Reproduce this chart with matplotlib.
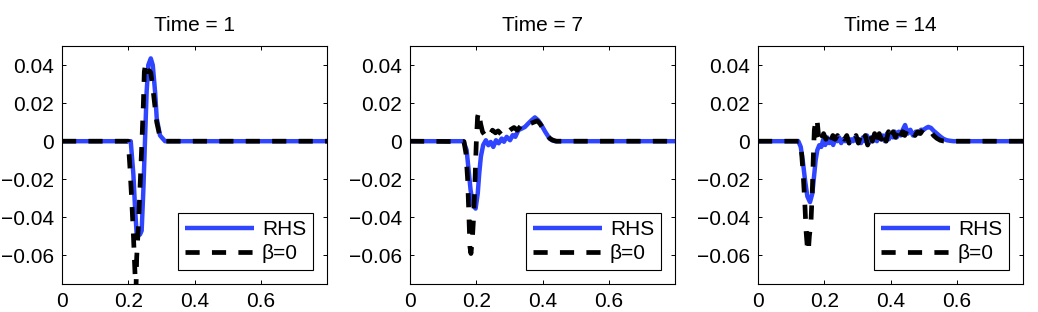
import numpy as np
import matplotlib
matplotlib.use("Agg")
import matplotlib.pyplot as plt

plt.rcParams['font.family'] = ['Liberation Sans', 'DejaVu Sans']

titles = ["Time = 1", "Time = 7", "Time = 14"]

# Time = 1
t1_rhs_x = [0.0, 0.2075, 0.2155, 0.2205, 0.2255, 0.2305, 0.2355, 0.2405, 0.2455, 0.2505,
            0.2555, 0.2605, 0.268, 0.274, 0.281, 0.286, 0.296, 0.311, 0.8]
t1_rhs_y = [0.0, 0.0, -0.0175, -0.035, -0.049, -0.0495, -0.049, -0.047, -0.026, 0.0,
            0.026, 0.040, 0.0435, 0.040, 0.026, 0.012, 0.003, 0.0, 0.0]
t1_b0_x = [0.0, 0.200, 0.205, 0.2105, 0.2155, 0.2205, 0.2225, 0.2255, 0.2305, 0.2355,
           0.2405, 0.2455, 0.2485, 0.2525, 0.2575, 0.2635, 0.268, 0.2755, 0.286, 0.296,
           0.306, 0.8]
t1_b0_y = [0.0, 0.0, -0.0135, -0.031, -0.049, -0.070, -0.085, -0.061, -0.045, -0.0245,
           -0.0035, 0.019, 0.0365, 0.041, 0.0365, 0.037, 0.036, 0.026, 0.010, 0.002,
           0.0, 0.0]

# Time = 7
t7_rhs_x = [0.0, 0.161, 0.171, 0.176, 0.183, 0.191, 0.198, 0.2045, 0.209, 0.214,
            0.221, 0.229, 0.2365, 0.2435, 0.2515, 0.2596, 0.2677, 0.2767, 0.2837, 0.2918,
            0.302, 0.310, 0.318, 0.327, 0.337, 0.347, 0.357, 0.367, 0.377, 0.387,
            0.397, 0.408, 0.418, 0.428, 0.438, 0.8]
t7_rhs_y = [0.0, 0.0, -0.0047, -0.0135, -0.0258, -0.0337, -0.0354, -0.0275, -0.017, -0.008,
            -0.002, 0.0005, -0.0021, -0.0004, -0.003, 0.0005, -0.0011, 0.0014, -0.0003, 0.0023,
            0.0005, 0.0032, 0.0023, 0.0058, 0.0066, 0.0075, 0.0093, 0.011, 0.0125, 0.011,
            0.0084, 0.005, 0.0023, 0.0005, 0.0, 0.0]
t7_b0_x = [0.0, 0.163, 0.169, 0.174, 0.178, 0.181, 0.184, 0.188, 0.192, 0.196,
           0.200, 0.204, 0.208, 0.213, 0.219, 0.226, 0.233, 0.241, 0.249, 0.258,
           0.266, 0.275, 0.284, 0.294, 0.304, 0.314, 0.324, 0.334, 0.344, 0.354,
           0.364, 0.374, 0.384, 0.392, 0.402, 0.412, 0.422, 0.432, 0.442, 0.8]
t7_b0_y = [0.0, -0.0002, -0.0065, -0.020, -0.040, -0.0556, -0.059, -0.052, -0.040, -0.022,
           -0.0012, 0.0128, 0.0154, 0.0093, 0.0049, 0.0032, 0.0049, 0.0032, 0.0058, 0.0044,
           0.0054, 0.0037, 0.0058, 0.0047, 0.0061, 0.0072, 0.0058, 0.0079, 0.0093, 0.0102,
           0.0093, 0.010, 0.0107, 0.0093, 0.0066, 0.0037, 0.0014, 0.0005, 0.0, 0.0]

# Time = 14
t14_rhs_x = [0.0, 0.1217, 0.129, 0.135, 0.142, 0.149, 0.157, 0.164, 0.169, 0.174,
             0.179, 0.185, 0.191, 0.197, 0.203, 0.209, 0.215, 0.221, 0.227, 0.233,
             0.239, 0.245, 0.251, 0.257, 0.263, 0.269, 0.275, 0.281, 0.287, 0.293,
             0.299, 0.305, 0.311, 0.317, 0.323, 0.329, 0.335, 0.341, 0.347, 0.353,
             0.359, 0.365, 0.371, 0.377, 0.383, 0.389, 0.395, 0.401, 0.407, 0.413,
             0.419, 0.425, 0.431, 0.437, 0.444, 0.452, 0.460, 0.468, 0.476, 0.484,
             0.492, 0.500, 0.508, 0.514, 0.522, 0.530, 0.540, 0.550, 0.560, 0.570,
             0.580, 0.590, 0.600, 0.8]
t14_rhs_y = [0.0, 0.0, -0.003, -0.010, -0.0205, -0.029, -0.032, -0.0275, -0.0188, -0.010,
             -0.0047, -0.0021, -0.003, 0.001, -0.002, 0.002, -0.001, 0.001, -0.002, 0.002,
             0.000, 0.002, -0.001, 0.001, 0.000, 0.002, -0.001, 0.001, 0.000, 0.002,
             0.000, 0.001, -0.001, 0.002, 0.000, 0.003, -0.001, 0.002, 0.000, 0.003,
             0.000, 0.003, 0.001, 0.003, 0.000, 0.004, 0.001, 0.004, 0.002, 0.005,
             0.002, 0.005, 0.003, 0.006, 0.0085, 0.004, 0.006, 0.003, 0.005, 0.004,
             0.006, 0.006, 0.007, 0.0075, 0.007, 0.0055, 0.004, 0.0025, 0.0012, 0.0005,
             0.0002, 0.0, 0.0, 0.0]
t14_b0_x = [0.0, 0.127, 0.132, 0.137, 0.142, 0.145, 0.149, 0.152, 0.155, 0.157,
            0.160, 0.164, 0.167, 0.170, 0.175, 0.179, 0.183, 0.189, 0.198, 0.205,
            0.212, 0.219, 0.226, 0.233, 0.240, 0.247, 0.254, 0.261, 0.268, 0.275,
            0.282, 0.289, 0.296, 0.303, 0.310, 0.317, 0.324, 0.331, 0.338, 0.345,
            0.352, 0.359, 0.366, 0.373, 0.380, 0.387, 0.394, 0.401, 0.408, 0.415,
            0.422, 0.429, 0.436, 0.443, 0.450, 0.458, 0.466, 0.474, 0.482, 0.490,
            0.498, 0.506, 0.514, 0.522, 0.530, 0.540, 0.550, 0.560, 0.570, 0.580,
            0.590, 0.8]
t14_b0_y = [0.0, 0.0, -0.007, -0.019, -0.035, -0.047, -0.056, -0.058, -0.050, -0.047,
            -0.042, -0.026, -0.0083, 0.0058, 0.0119, 0.010, 0.0023, -0.0012, 0.004, 0.001,
            0.004, 0.000, 0.003, 0.001, 0.003, 0.000, 0.002, 0.001, 0.003, -0.001,
            0.002, 0.001, 0.003, -0.001, 0.003, 0.000, 0.003, -0.002, 0.004, 0.000,
            0.004, -0.001, 0.004, 0.001, 0.005, 0.000, 0.005, 0.001, 0.005, 0.002,
            0.006, 0.002, 0.005, 0.003, 0.006, 0.004, 0.005, 0.003, 0.005, 0.004,
            0.006, 0.007, 0.006, 0.005, 0.003, 0.0015, 0.0005, 0.0001, 0.0, 0.0,
            0.0, 0.0]

rhs_x = [t1_rhs_x, t7_rhs_x, t14_rhs_x]
rhs_y = [t1_rhs_y, t7_rhs_y, t14_rhs_y]
b0_x = [t1_b0_x, t7_b0_x, t14_b0_x]
b0_y = [t1_b0_y, t7_b0_y, t14_b0_y]

xticks = [0, 0.2, 0.4, 0.6]
yticks = [-0.06, -0.04, -0.02, 0, 0.02, 0.04]

fig = plt.figure(figsize=(10.38, 3.12), dpi=100)
lefts = [62, 410, 758]
for i in range(3):
    ax = fig.add_axes([lefts[i] / 1038, 1 - 284 / 312, 265 / 1038, 238 / 312])
    ax.plot(rhs_x[i], rhs_y[i], color='#2f45ff', lw=3.2, label='RHS',
            solid_joinstyle='round', solid_capstyle='butt')
    ax.plot(b0_x[i], b0_y[i], color='black', lw=3.4, linestyle=(0, (3.0, 2.6)),
            label='\u03b2=0', dash_capstyle='butt')
    ax.set_xlim(0, 0.8)
    ax.set_ylim(-0.075, 0.05)
    ax.set_xticks(xticks)
    ax.set_xticklabels(['0', '0.2', '0.4', '0.6'])
    ax.set_yticks(yticks)
    ax.set_yticklabels(['\u22120.06', '\u22120.04', '\u22120.02', '0', '0.02', '0.04'])
    ax.tick_params(direction='in', length=3, width=0.7, top=True, right=True,
                   labelsize=15, pad=6)
    for s in ax.spines.values():
        s.set_linewidth(0.8)
    ax.set_title(titles[i], fontsize=15, pad=11)
    leg = ax.legend(loc='lower right', fontsize=15, handlelength=3.3,
                    fancybox=False, framealpha=1, edgecolor='black',
                    borderaxespad=0.65, labelspacing=0.25, handletextpad=0.4,
                    borderpad=0.35)
    leg.get_frame().set_linewidth(0.8)

fig.savefig('out.png', dpi=100, facecolor='white')
